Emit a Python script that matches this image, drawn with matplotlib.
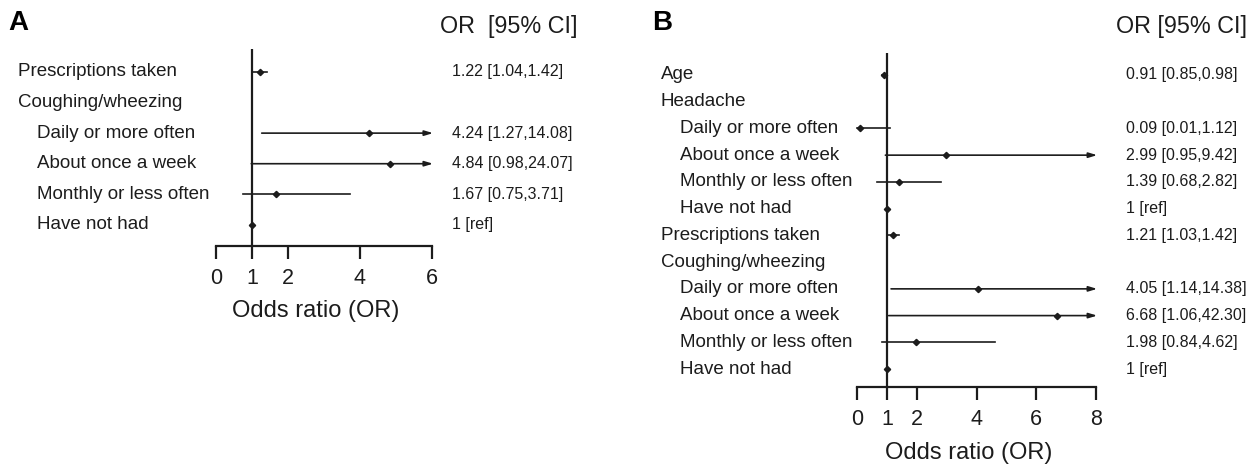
import numpy as np
import matplotlib.pyplot as plt
from matplotlib.transforms import blended_transform_factory

plt.rcParams['font.family'] = ['Liberation Sans', 'DejaVu Sans']

# A: model with prescriptions and coughing/wheezing
labels_a = ["Prescriptions taken", "Coughing/wheezing", "Daily or more often",
            "About once a week", "Monthly or less often", "Have not had"]
sub_a = [0, 0, 1, 1, 1, 1]
or_a = [1.22, np.nan, 4.24, 4.84, 1.67, 1]
lo_a = [1.04, np.nan, 1.27, 0.98, 0.75, 1]
hi_a = [1.42, np.nan, 14.08, 24.07, 3.71, 1]
ticks_a = [0, 1, 2, 4, 6]

# B: model with age, headache, prescriptions and coughing/wheezing
labels_b = ["Age", "Headache", "Daily or more often", "About once a week",
            "Monthly or less often", "Have not had", "Prescriptions taken",
            "Coughing/wheezing", "Daily or more often", "About once a week",
            "Monthly or less often", "Have not had"]
sub_b = [0, 0, 1, 1, 1, 1, 0, 0, 1, 1, 1, 1]
or_b = [0.91, np.nan, 0.09, 2.99, 1.39, 1, 1.21, np.nan, 4.05, 6.68, 1.98, 1]
lo_b = [0.85, np.nan, 0.01, 0.95, 0.68, 1, 1.03, np.nan, 1.14, 1.06, 0.84, 1]
hi_b = [0.98, np.nan, 1.12, 9.42, 2.82, 1, 1.42, np.nan, 14.38, 42.30, 4.62, 1]
ticks_b = [0, 1, 2, 4, 6, 8]

W, H = 1259, 467
fig = plt.figure(figsize=(W / 100, H / 100), dpi=100)
ink = '#1c1c1c'


def fx(px):
    return px / W


def fy(py):
    return 1 - py / H


def ci_text(o, l, h):
    if l == h:
        return "1 [ref]"
    return f"{o:.2f} [{l:.2f},{h:.2f}]"


def forest(box, labels, sub, ors, los, his, ticks, lab_x, val_x, ylim, xlabel_pos):
    left, top, right, bottom = box
    ax = fig.add_axes([fx(left), fy(bottom), fx(right - left), (bottom - top) / H])
    xmax = ticks[-1]
    ax.set_xlim(0, xmax)
    ax.set_ylim(*ylim)
    for s in ['left', 'top', 'right']:
        ax.spines[s].set_visible(False)
    ax.spines['bottom'].set_linewidth(1.6)
    ax.spines['bottom'].set_color(ink)
    ax.set_yticks([])
    ax.set_xticks(ticks)
    ax.tick_params(axis='x', length=9, width=1.6, color=ink, labelsize=15.5,
                   labelcolor=ink, pad=7)
    ax.axvline(1, color=ink, lw=1.6, zorder=3)

    tr = blended_transform_factory(fig.transFigure, ax.transData)
    for i, name in enumerate(labels):
        x0 = lab_x + (19 if sub[i] else 0)
        ax.text(fx(x0), i, name, transform=tr, fontsize=13.5, color=ink,
                va='center', ha='left')
        if np.isnan(ors[i]):
            continue
        ax.text(fx(val_x), i, ci_text(ors[i], los[i], his[i]), transform=tr,
                fontsize=11.5, color=ink, va='center', ha='left')
        if his[i] > xmax:
            ax.annotate('', xy=(xmax + 0.03 * xmax / 6, i), xytext=(los[i], i),
                        arrowprops=dict(arrowstyle='-|>,head_length=0.5,head_width=0.15',
                                        lw=1.2, color=ink, shrinkA=0, shrinkB=0),
                        annotation_clip=False)
        else:
            ax.plot([los[i], his[i]], [i, i], color=ink, lw=1.2, clip_on=False)
        ax.plot(ors[i], i, marker='D', ms=3.2, color=ink, clip_on=False, zorder=4)

    ax.set_xlabel("Odds ratio (OR)", fontsize=17, color=ink, va='center')
    ax.xaxis.set_label_coords(*xlabel_pos)
    return ax


ax_a = forest((216, 49, 432, 246), labels_a, sub_a, or_a, lo_a, hi_a, ticks_a,
              18, 452, (5.69, -0.75), (0.463, -0.33))
ax_b = forest((857, 53, 1096, 387), labels_b, sub_b, or_b, lo_b, hi_b, ticks_b,
              661, 1126, (11.67, -0.82), (0.469, -0.197))

fig.text(fx(8), fy(23), "A", fontsize=20, fontweight='bold', va='center', ha='left')
fig.text(fx(652), fy(23), "B", fontsize=20, fontweight='bold', va='center', ha='left')
fig.text(fx(440), fy(26), "OR  [95% CI]", fontsize=16.8, color=ink, va='center', ha='left')
fig.text(fx(1116), fy(26), "OR [95% CI]", fontsize=16.8, color=ink, va='center', ha='left')

fig.savefig("out.png", dpi=100)
